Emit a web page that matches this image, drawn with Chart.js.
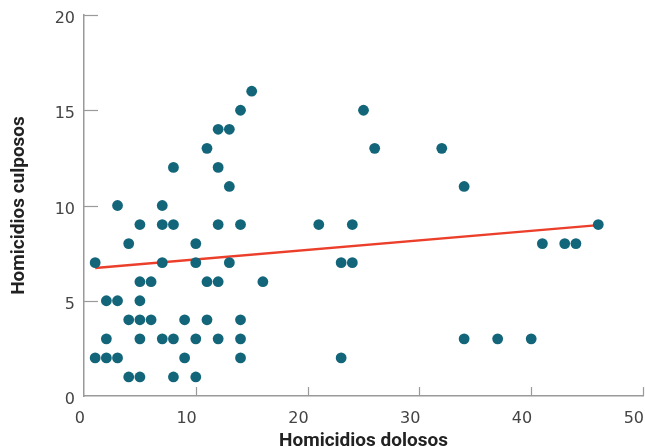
<!DOCTYPE html>
<html>
<head>
<meta charset="utf-8">
<script src="https://cdn.jsdelivr.net/npm/chart.js@4.4.0/dist/chart.umd.min.js"></script>
<style>
    html, body { margin: 0; padding: 0; background: #fff; }
    #wrap { width: 645px; height: 447px; }
</style>
</head>
<body>
<div id="wrap"><canvas id="scatter_chart"></canvas></div>
<script>
// datos: homicidios dolosos (x) vs culposos (y)
const dolosos = [15, 14, 25, 12, 13, 11, 26, 32, 8, 12, 13, 34, 3, 7,
    5, 7, 8, 12, 14, 21, 24, 46,
    4, 10, 41, 43, 44,
    1, 7, 10, 13, 23, 24,
    5, 6, 11, 12, 16,
    2, 3, 5,
    4, 5, 6, 9, 11, 14,
    2, 5, 7, 8, 10, 12, 14, 34, 37, 40,
    1, 2, 3, 9, 14, 23,
    4, 5, 8, 10];
const culposos = [16, 15, 15, 14, 14, 13, 13, 13, 12, 12, 11, 11, 10, 10,
    9, 9, 9, 9, 9, 9, 9, 9,
    8, 8, 8, 8, 8,
    7, 7, 7, 7, 7, 7,
    6, 6, 6, 6, 6,
    5, 5, 5,
    4, 4, 4, 4, 4, 4,
    3, 3, 3, 3, 3, 3, 3, 3, 3, 3,
    2, 2, 2, 2, 2, 2,
    1, 1, 1, 1];

// linea de tendencia (extremos leidos)
const tendenciaX = [1, 46];
const tendenciaY = [6.72, 8.97];

const xTicks = [0, 10, 20, 30, 40, 50];
const yTicks = [0, 5, 10, 15, 20];

let puntos = dolosos.map((d, i) => ({ x: d, y: culposos[i] }));
let tendencia = tendenciaX.map((d, i) => ({ x: d, y: tendenciaY[i] }));

// marcas de los ejes hacia adentro
const inwardTicks = {
    id: 'inwardTicks',
    afterDatasetsDraw(chart) {
        const ctx = chart.ctx;
        const xs = chart.scales.x, ys = chart.scales.y;
        ctx.save();
        ctx.strokeStyle = '#9a9a9a';
        ctx.lineWidth = 1.2;
        xTicks.forEach(v => {
            if (v === 0) return;
            let px = Math.round(xs.getPixelForValue(v)) + 0.5;
            ctx.beginPath();
            ctx.moveTo(px, ys.bottom);
            ctx.lineTo(px, ys.bottom - 9);
            ctx.stroke();
        });
        yTicks.forEach(v => {
            if (v === 0) return;
            let py = Math.round(ys.getPixelForValue(v)) + 0.5;
            ctx.beginPath();
            ctx.moveTo(xs.left, py);
            ctx.lineTo(xs.left + 14, py);
            ctx.stroke();
        });
        ctx.restore();
    }
};

let config = {
    type: 'scatter',
    data: {
        datasets: [
            {
                type: 'line',
                label: 'Tendencia',
                data: tendencia,
                borderColor: '#ec3f2b',
                borderWidth: 2.5,
                pointRadius: 0,
                fill: false,
                order: 2
            },
            {
                label: 'Municipios',
                data: puntos,
                backgroundColor: '#13667a',
                borderColor: '#13667a',
                pointRadius: 5.4,
                pointBorderWidth: 0,
                order: 1
            }
        ]
    },
    options: {
        responsive: true,
        maintainAspectRatio: false,
        animation: false,
        layout: {
            autoPadding: false,
            padding: { top: 15, right: 2, left: 0, bottom: 0 }
        },
        plugins: {
            legend: { display: false },
            tooltip: { enabled: false }
        },
        scales: {
            x: {
                type: 'linear',
                min: 0,
                max: 50,
                afterBuildTicks: s => { s.ticks = xTicks.map(v => ({ value: v })); },
                afterFit: s => { s.height = 51; s.paddingLeft = 0; s.paddingRight = 0; },
                grid: { display: false, drawTicks: false },
                border: { display: true, color: '#9a9a9a', width: 1.5 },
                ticks: {
                    padding: 13,
                    align: 'end',
                    labelOffset: 1,
                    color: '#444',
                    font: { family: 'DejaVu Sans', size: 16 }
                },
                title: {
                    display: true,
                    text: 'Homicidios dolosos',
                    color: '#222',
                    padding: { top: 0, bottom: -6 },
                    font: { family: 'Roboto', size: 19, weight: 'bold' }
                }
            },
            y: {
                type: 'linear',
                min: 0,
                max: 20,
                afterBuildTicks: s => { s.ticks = yTicks.map(v => ({ value: v })); },
                afterFit: s => { s.width = 84; s.paddingTop = 0; s.paddingBottom = 0; },
                grid: { display: false, drawTicks: false },
                border: { display: true, color: '#9a9a9a', width: 1.5 },
                ticks: {
                    padding: 9,
                    labelOffset: 4,
                    color: '#444',
                    font: { family: 'DejaVu Sans', size: 16 }
                },
                title: {
                    display: true,
                    text: 'Homicidios culposos',
                    color: '#222',
                    padding: { top: 8, bottom: 0 },
                    font: { family: 'Roboto', size: 19, weight: 'bold' }
                }
            }
        }
    },
    plugins: [inwardTicks]
};

new Chart(document.getElementById('scatter_chart').getContext('2d'), config);
</script>
</body>
</html>
